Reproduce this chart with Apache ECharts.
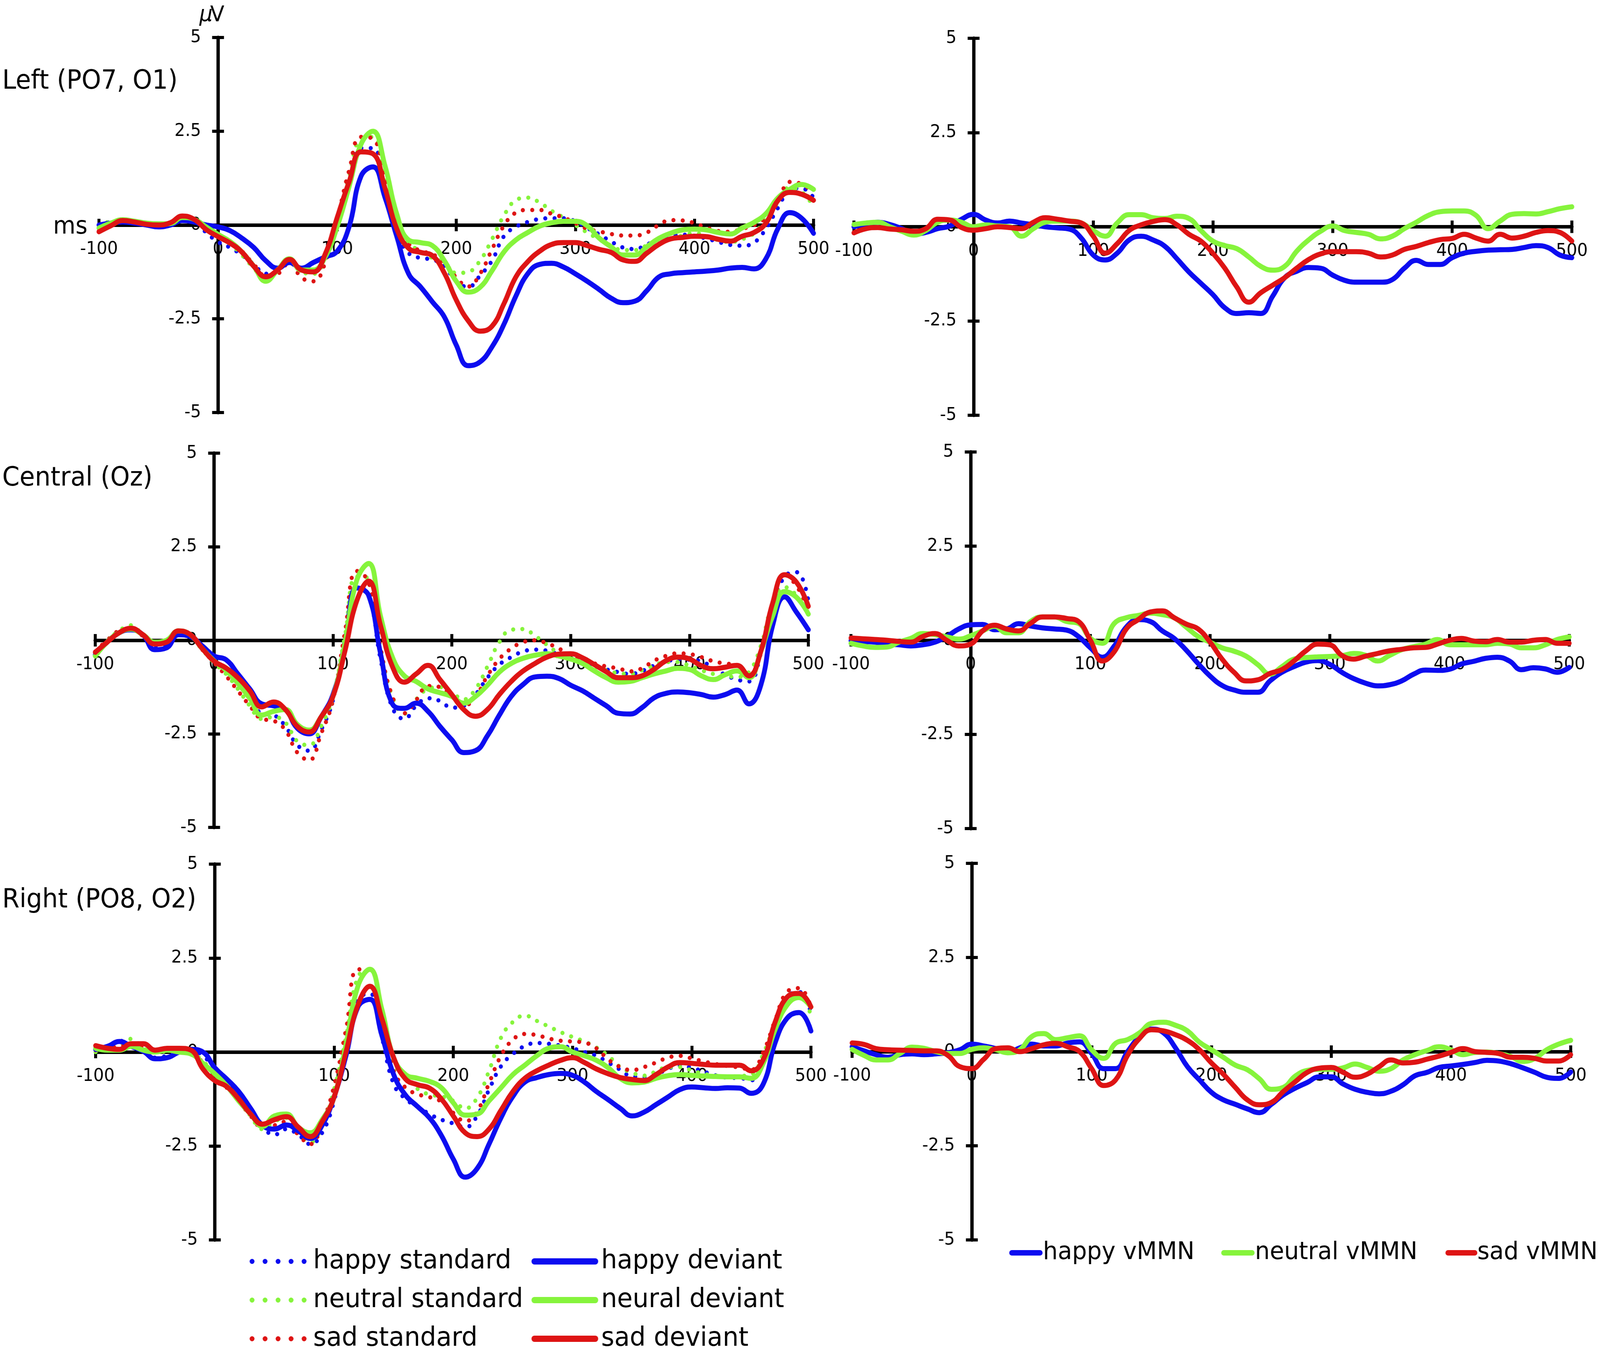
<!DOCTYPE html>
<html>
<head>
<meta charset="utf-8">
<script src="https://cdn.jsdelivr.net/npm/echarts/dist/echarts.min.js"></script>
<style>
html,body{margin:0;padding:0;background:#fff;overflow:hidden;}
#chart{width:4317px;height:3466px;transform-origin:0 0;}
</style>
</head>
<body>
<div id="chart"></div>
<script>
// ---- time axis (ms) ----
const times = [-100,-90,-80,-70,-60,-50,-40,-30,-20,-10,
  0,10,20,30,40,50,60,70,80,90,
  100,110,120,130,140,150,160,170,180,190,
  200,210,220,230,240,250,260,270,280,290,
  300,310,320,330,340,350,360,370,380,390,
  400,410,420,430,440,450,460,470,480,490,
  500];

const xTicks = [-100, 0, 100, 200, 300, 400, 500];
const yTicks = [-5, -2.5, 0, 2.5, 5];
const panelTitles = ['Left (PO7, O1)', 'Central (Oz)', 'Right (PO8, O2)'];
const erpLegend = ['happy standard', 'neutral standard', 'sad standard', 'happy deviant', 'neural deviant', 'sad deviant'];
const mmnLegend = ['happy vMMN', 'neutral vMMN', 'sad vMMN'];

// ---- Left (PO7, O1) ----
const L_happyStd = [0.0,0.08,0.1,0.05,0.0,-0.02,0.02,0.15,0.1,-0.2,
 -0.45,-0.6,-0.8,-1.05,-1.3,-1.2,-0.95,-1.2,-1.25,-0.9,
 0.0,1.2,2.05,2.05,1.0,-0.2,-0.75,-0.88,-0.92,-1.1,
 -1.5,-1.65,-1.35,-0.95,-0.3,-0.05,0.08,0.16,0.18,0.18,
 0.1,-0.08,-0.25,-0.44,-0.6,-0.64,-0.52,-0.38,-0.28,-0.26,
 -0.29,-0.36,-0.45,-0.53,-0.55,-0.47,-0.1,0.45,0.92,0.98,
 0.73];
const L_neutralStd = [-0.05,0.1,0.12,0.05,0.02,0.0,0.05,0.18,0.12,-0.1,
 -0.3,-0.5,-0.8,-1.15,-1.45,-1.25,-0.95,-1.25,-1.3,-0.9,
 0.05,1.3,2.3,2.35,1.2,-0.2,-0.5,-0.7,-0.88,-1.0,
 -1.28,-1.25,-0.95,-0.38,0.25,0.66,0.73,0.6,0.38,0.2,
 0.0,-0.2,-0.38,-0.55,-0.67,-0.67,-0.55,-0.47,-0.38,-0.28,
 -0.22,-0.29,-0.4,-0.45,-0.38,-0.22,0.15,0.6,1.0,0.88,
 0.5];
const L_sadStd = [-0.15,0.05,0.1,0.06,0.0,-0.02,0.05,0.22,0.12,-0.1,
 -0.3,-0.45,-0.7,-1.05,-1.35,-1.3,-1.0,-1.4,-1.5,-1.0,
 0.15,1.45,2.35,2.3,1.2,-0.05,-0.5,-0.69,-0.78,-1.0,
 -1.4,-1.64,-1.3,-0.65,-0.02,0.33,0.4,0.4,0.3,0.2,
 0.05,-0.1,-0.17,-0.24,-0.28,-0.28,-0.2,0.0,0.13,0.12,
 0.05,-0.07,-0.16,-0.18,-0.1,0.0,0.2,0.6,1.15,1.09,
 0.88];
const L_happyDev = [0.0,0.05,0.08,0.05,0.0,-0.05,0.0,0.12,0.08,0.0,
 -0.05,-0.15,-0.35,-0.6,-0.95,-1.15,-1.0,-1.15,-1.0,-0.85,
 -0.7,-0.05,1.3,1.55,0.75,-0.3,-1.3,-1.65,-2.05,-2.45,
 -3.2,-3.75,-3.65,-3.25,-2.65,-1.9,-1.3,-1.05,-1.02,-1.12,
 -1.3,-1.5,-1.72,-1.95,-2.07,-2.03,-1.75,-1.39,-1.3,-1.27,
 -1.25,-1.23,-1.2,-1.15,-1.13,-1.17,-0.9,-0.1,0.33,0.18,
 -0.22];
const L_neutralDev = [-0.08,0.05,0.14,0.1,0.05,0.03,0.04,0.2,0.15,-0.05,
 -0.25,-0.44,-0.72,-1.1,-1.5,-1.2,-0.9,-1.2,-1.2,-0.85,
 -0.05,1.02,2.15,2.5,1.6,0.3,-0.4,-0.47,-0.55,-0.95,
 -1.5,-1.79,-1.66,-1.22,-0.72,-0.4,-0.2,-0.03,0.06,0.1,
 0.1,-0.02,-0.35,-0.58,-0.8,-0.8,-0.58,-0.36,-0.22,-0.13,
 -0.11,-0.13,-0.2,-0.24,-0.08,0.07,0.3,0.72,0.95,1.08,
 0.95];
const L_sadDev = [-0.18,-0.02,0.12,0.08,0.02,0.0,0.06,0.24,0.15,-0.12,
 -0.31,-0.48,-0.72,-1.1,-1.38,-1.2,-0.92,-1.2,-1.25,-0.77,
 0.2,1.15,1.95,1.9,1.0,-0.1,-0.62,-0.73,-0.82,-1.28,
 -2.0,-2.55,-2.83,-2.7,-2.1,-1.39,-0.98,-0.7,-0.52,-0.47,
 -0.47,-0.55,-0.65,-0.73,-0.93,-0.97,-0.75,-0.52,-0.37,-0.33,
 -0.3,-0.31,-0.38,-0.43,-0.3,-0.2,0.05,0.65,0.87,0.82,
 0.66];
const L_happyVMMN = [0.0,0.08,0.12,0.06,-0.05,-0.2,-0.15,-0.05,0.02,0.2,
 0.33,0.18,0.1,0.15,0.1,0.05,0.0,-0.03,-0.06,-0.3,
 -0.75,-0.88,-0.7,-0.35,-0.25,-0.35,-0.52,-0.85,-1.2,-1.5,
 -1.8,-2.15,-2.3,-2.28,-2.3,-1.84,-1.35,-1.18,-1.08,-1.1,
 -1.28,-1.42,-1.47,-1.47,-1.47,-1.4,-1.1,-0.89,-1.0,-1.0,
 -0.82,-0.7,-0.65,-0.62,-0.61,-0.6,-0.55,-0.5,-0.55,-0.75,
 -0.82];
const L_neutralVMMN = [0.06,0.1,0.12,0.0,-0.12,-0.22,-0.1,0.12,0.18,0.12,
 0.0,0.05,0.02,0.0,-0.25,-0.05,0.12,0.15,0.15,0.1,
 -0.1,-0.25,0.1,0.32,0.32,0.24,0.22,0.28,0.22,-0.1,
 -0.38,-0.5,-0.58,-0.8,-1.05,-1.15,-1.05,-0.65,-0.35,-0.12,
 0.02,-0.1,-0.15,-0.2,-0.32,-0.25,-0.05,0.12,0.3,0.4,
 0.42,0.42,0.3,-0.05,0.15,0.33,0.35,0.34,0.4,0.48,
 0.53];
const L_sadVMMN = [-0.16,-0.05,-0.02,-0.06,-0.08,-0.12,-0.05,0.2,0.18,-0.02,
 -0.09,-0.05,0.0,-0.02,-0.05,0.12,0.24,0.2,0.15,0.1,
 -0.25,-0.7,-0.45,-0.1,0.05,0.14,0.19,0.05,-0.2,-0.38,
 -0.7,-1.1,-1.6,-2.0,-1.75,-1.55,-1.35,-1.1,-0.87,-0.72,
 -0.66,-0.66,-0.66,-0.7,-0.8,-0.75,-0.6,-0.52,-0.42,-0.34,
 -0.31,-0.2,-0.3,-0.38,-0.2,-0.3,-0.25,-0.15,-0.1,-0.15,
 -0.38];

// ---- Central (Oz) ----
const C_happyStd = [-0.35,-0.05,0.22,0.3,0.12,-0.15,-0.1,0.2,0.12,-0.2,
 -0.55,-0.8,-1.15,-1.55,-1.95,-2.0,-2.3,-2.8,-2.95,-2.4,
 -1.6,0.0,1.45,1.2,-0.5,-1.8,-2.1,-1.75,-1.55,-1.62,
 -1.8,-1.75,-1.45,-1.0,-0.65,-0.45,-0.3,-0.25,-0.28,-0.38,
 -0.5,-0.6,-0.7,-0.78,-0.85,-0.9,-0.82,-0.68,-0.58,-0.5,
 -0.52,-0.56,-0.75,-0.92,-1.05,-1.1,-0.35,0.9,1.7,1.82,
 1.05];
const C_neutralStd = [-0.4,-0.02,0.25,0.4,0.15,-0.05,-0.02,0.25,0.12,-0.25,
 -0.6,-0.9,-1.3,-1.75,-2.1,-2.05,-2.2,-2.7,-2.8,-2.3,
 -1.5,0.1,1.7,1.65,-0.2,-1.5,-1.96,-1.58,-1.3,-1.25,
 -1.4,-1.58,-1.3,-0.7,-0.05,0.28,0.3,0.12,-0.12,-0.35,
 -0.5,-0.6,-0.7,-0.8,-0.88,-0.9,-0.8,-0.68,-0.58,-0.58,
 -0.68,-0.8,-0.9,-0.95,-0.98,-0.85,-0.15,0.98,1.42,1.2,
 0.77];
const C_sadStd = [-0.3,0.0,0.25,0.3,0.12,-0.1,-0.05,0.22,0.12,-0.25,
 -0.6,-0.95,-1.35,-1.75,-2.1,-2.15,-2.4,-3.0,-3.2,-2.5,
 -1.6,0.2,1.85,1.55,-0.2,-1.5,-1.95,-1.6,-1.22,-1.25,
 -1.5,-1.75,-1.5,-0.95,-0.5,-0.22,-0.05,0.0,-0.08,-0.22,
 -0.4,-0.52,-0.62,-0.7,-0.75,-0.83,-0.75,-0.55,-0.42,-0.35,
 -0.37,-0.45,-0.56,-0.62,-0.66,-0.92,-0.35,0.9,1.75,1.45,
 0.84];
const C_happyDev = [-0.39,-0.05,0.2,0.28,0.15,-0.25,-0.2,0.15,0.1,-0.15,
 -0.42,-0.52,-0.9,-1.3,-1.7,-1.75,-1.85,-2.35,-2.5,-2.05,
 -1.45,-0.25,1.4,1.2,-0.35,-1.7,-1.82,-1.68,-1.9,-2.3,
 -2.66,-3.0,-2.95,-2.55,-2.0,-1.5,-1.18,-0.98,-0.96,-1.02,
 -1.2,-1.35,-1.55,-1.75,-1.95,-1.97,-1.8,-1.54,-1.42,-1.38,
 -1.4,-1.45,-1.52,-1.45,-1.33,-1.7,-1.2,0.4,1.16,0.75,
 0.28];
const C_neutralDev = [-0.42,-0.05,0.2,0.3,0.15,-0.05,0.0,0.25,0.15,-0.22,
 -0.55,-0.8,-1.15,-1.55,-2.0,-1.9,-1.85,-2.25,-2.4,-2.05,
 -1.5,-0.1,1.6,2.05,0.65,-0.45,-0.95,-1.1,-1.3,-1.4,
 -1.5,-1.68,-1.5,-1.2,-0.85,-0.62,-0.48,-0.4,-0.36,-0.42,
 -0.5,-0.62,-0.82,-1.0,-1.12,-1.1,-1.0,-0.9,-0.82,-0.75,
 -0.78,-0.95,-1.05,-0.92,-0.82,-1.0,-0.3,0.65,1.3,1.15,
 0.7];
const C_sadDev = [-0.32,-0.05,0.2,0.32,0.15,-0.1,-0.05,0.25,0.15,-0.22,
 -0.56,-0.74,-1.0,-1.35,-1.78,-1.65,-1.85,-2.3,-2.45,-2.05,
 -1.5,-0.3,1.05,1.58,0.4,-0.7,-1.12,-0.9,-0.67,-1.05,
 -1.45,-1.85,-2.03,-1.85,-1.45,-1.1,-0.82,-0.62,-0.45,-0.37,
 -0.36,-0.47,-0.65,-0.84,-1.0,-1.0,-0.95,-0.78,-0.55,-0.45,
 -0.5,-0.68,-0.76,-0.72,-0.67,-0.95,-0.3,1.0,1.75,1.55,
 0.91];
const C_happyVMMN = [-0.01,-0.03,-0.05,-0.1,-0.12,-0.15,-0.12,-0.05,0.1,0.3,
 0.41,0.42,0.28,0.3,0.44,0.38,0.33,0.3,0.27,0.1,
 -0.2,-0.45,-0.15,0.35,0.55,0.5,0.25,0.05,-0.26,-0.62,
 -0.95,-1.2,-1.32,-1.38,-1.38,-1.08,-0.85,-0.7,-0.58,-0.54,
 -0.64,-0.85,-1.02,-1.14,-1.21,-1.18,-1.08,-0.9,-0.79,-0.8,
 -0.77,-0.63,-0.56,-0.48,-0.45,-0.55,-0.78,-0.73,-0.76,-0.85,
 -0.72];
const C_neutralVMMN = [-0.08,-0.15,-0.19,-0.18,-0.05,0.05,0.18,0.15,0.09,0.03,
 0.12,0.25,0.37,0.2,0.2,0.5,0.62,0.62,0.5,0.45,
 0.05,-0.08,0.45,0.6,0.66,0.72,0.68,0.6,0.35,0.1,
 -0.05,-0.2,-0.29,-0.42,-0.65,-0.9,-0.7,-0.5,-0.46,-0.44,
 -0.43,-0.41,-0.35,-0.4,-0.55,-0.4,-0.25,-0.17,-0.1,0.02,
 -0.12,-0.12,-0.12,-0.12,-0.08,-0.1,-0.2,-0.2,-0.12,0.02,
 0.09];
const C_sadVMMN = [0.06,0.04,0.02,0.0,-0.03,-0.05,0.1,0.18,0.0,-0.15,
 -0.1,0.25,0.4,0.3,0.25,0.45,0.62,0.62,0.58,0.5,
 0.0,-0.55,-0.3,0.3,0.55,0.75,0.78,0.6,0.43,0.3,
 -0.05,-0.5,-0.85,-1.08,-1.05,-0.88,-0.78,-0.55,-0.28,-0.1,
 -0.12,-0.4,-0.5,-0.42,-0.35,-0.28,-0.24,-0.2,-0.19,-0.1,
 0.0,0.05,-0.02,-0.04,0.02,-0.05,-0.05,0.0,0.02,-0.08,
 -0.08];

// ---- Right (PO8, O2) ----
const R_happyStd = [0.05,0.15,0.3,0.15,0.05,-0.15,-0.1,0.02,0.05,-0.1,
 -0.45,-0.8,-1.2,-1.6,-2.0,-2.2,-2.05,-2.2,-2.45,-2.15,
 -1.3,0.1,1.4,1.55,0.4,-0.85,-1.25,-1.45,-1.65,-1.8,
 -1.9,-2.0,-1.7,-1.0,-0.38,-0.05,0.16,0.24,0.22,0.17,
 0.1,0.0,-0.1,-0.28,-0.47,-0.65,-0.66,-0.6,-0.45,-0.36,
 -0.42,-0.52,-0.62,-0.68,-0.69,-0.75,-0.25,0.75,1.46,1.6,
 1.04];
const R_neutralStd = [0.0,0.1,0.2,0.35,0.1,0.0,0.02,0.05,0.0,-0.25,
 -0.55,-0.85,-1.25,-1.7,-2.05,-1.85,-1.75,-2.15,-2.4,-1.95,
 -1.0,0.4,2.0,2.2,0.9,-0.3,-0.65,-0.98,-1.13,-1.18,
 -1.3,-1.5,-1.22,-0.5,0.38,0.8,0.97,0.83,0.68,0.53,
 0.4,0.28,0.12,-0.1,-0.4,-0.55,-0.63,-0.52,-0.4,-0.4,
 -0.49,-0.58,-0.63,-0.65,-0.64,-0.6,-0.05,0.75,1.32,1.55,
 0.95];
const R_sadStd = [0.05,0.12,0.15,0.2,0.12,0.0,0.05,0.05,0.05,-0.3,
 -0.7,-0.95,-1.3,-1.7,-2.0,-1.95,-1.85,-2.2,-2.45,-1.9,
 -0.9,0.6,2.2,2.2,0.8,-0.5,-0.95,-1.12,-1.2,-1.32,
 -1.62,-1.84,-1.58,-0.83,-0.1,0.33,0.48,0.45,0.36,0.3,
 0.28,0.25,0.1,-0.2,-0.4,-0.48,-0.4,-0.28,-0.15,-0.1,
 -0.17,-0.25,-0.32,-0.37,-0.41,-0.47,0.0,0.85,1.6,1.7,
 1.18];
const R_happyDev = [0.07,0.15,0.28,0.15,0.02,-0.18,-0.15,0.0,0.07,0.0,
 -0.42,-0.72,-1.05,-1.5,-1.95,-2.05,-1.94,-2.1,-2.3,-1.95,
 -1.2,-0.1,1.2,1.4,0.45,-0.6,-1.15,-1.45,-1.75,-2.22,
 -2.85,-3.33,-3.1,-2.45,-1.75,-1.18,-0.8,-0.68,-0.6,-0.57,
 -0.62,-0.8,-1.05,-1.27,-1.5,-1.7,-1.6,-1.4,-1.2,-1.0,
 -0.93,-0.95,-0.97,-0.95,-0.96,-1.1,-0.85,0.25,0.9,1.05,
 0.56];
const R_neutralDev = [0.1,0.05,0.05,0.15,0.05,0.0,0.05,0.0,-0.05,-0.3,
 -0.58,-0.9,-1.3,-1.65,-1.98,-1.7,-1.65,-2.0,-2.15,-1.8,
 -1.2,0.2,1.75,2.2,1.15,-0.15,-0.6,-0.7,-0.78,-0.95,
 -1.35,-1.68,-1.65,-1.3,-0.95,-0.6,-0.35,-0.1,0.1,0.14,
 0.0,-0.1,-0.22,-0.42,-0.7,-0.82,-0.8,-0.7,-0.63,-0.6,
 -0.62,-0.64,-0.65,-0.66,-0.66,-0.7,-0.3,0.6,1.25,1.45,
 1.2];
const R_sadDev = [0.17,0.1,0.07,0.22,0.22,0.05,0.1,0.1,0.05,-0.45,
 -0.76,-0.92,-1.25,-1.65,-1.92,-1.8,-1.72,-2.0,-2.25,-1.85,
 -1.2,0.0,1.25,1.75,0.9,-0.15,-0.72,-0.87,-0.96,-1.25,
 -1.7,-2.15,-2.25,-2.05,-1.55,-1.05,-0.7,-0.5,-0.35,-0.22,
 -0.15,-0.28,-0.45,-0.58,-0.68,-0.73,-0.76,-0.6,-0.4,-0.28,
 -0.3,-0.33,-0.35,-0.35,-0.35,-0.5,-0.2,0.8,1.46,1.56,
 1.2];
const R_happyVMMN = [0.13,0.02,-0.08,-0.15,-0.08,-0.06,-0.08,-0.06,-0.03,0.05,
 0.2,0.15,0.08,-0.02,0.1,0.2,0.15,0.15,0.23,0.26,
 -0.05,-0.45,-0.45,0.0,0.4,0.6,0.5,0.1,-0.4,-0.75,
 -1.08,-1.28,-1.4,-1.52,-1.62,-1.4,-1.15,-0.97,-0.82,-0.67,
 -0.67,-0.86,-1.0,-1.08,-1.12,-1.05,-0.88,-0.64,-0.55,-0.42,
 -0.38,-0.34,-0.29,-0.23,-0.25,-0.32,-0.43,-0.55,-0.68,-0.71,
 -0.54];
const R_neutralVMMN = [0.06,-0.1,-0.22,-0.22,-0.05,0.12,0.09,0.0,-0.05,-0.05,
 0.06,0.1,0.05,-0.03,0.05,0.4,0.48,0.32,0.37,0.42,
 0.05,-0.18,0.22,0.32,0.5,0.75,0.78,0.7,0.55,0.25,
 0.05,-0.15,-0.36,-0.48,-0.72,-1.0,-0.95,-0.65,-0.5,-0.47,
 -0.47,-0.43,-0.33,-0.42,-0.52,-0.45,-0.22,-0.08,0.03,0.13,
 0.05,-0.08,-0.02,-0.01,-0.05,-0.13,-0.26,-0.18,0.05,0.2,
 0.3];
const R_sadVMMN = [0.23,0.19,0.08,0.05,0.04,0.03,0.02,0.02,-0.1,-0.4,
 -0.45,-0.2,0.08,0.1,0.0,0.08,0.18,0.22,0.13,0.0,
 -0.45,-0.9,-0.75,-0.1,0.35,0.58,0.55,0.45,0.3,0.05,
 -0.3,-0.6,-0.95,-1.28,-1.41,-1.35,-1.06,-0.8,-0.55,-0.44,
 -0.42,-0.55,-0.68,-0.6,-0.4,-0.22,-0.3,-0.28,-0.2,-0.12,
 -0.02,0.08,0.0,-0.02,-0.05,-0.15,-0.15,-0.18,-0.25,-0.25,
 -0.08];

// ---- styling ----
const FONT = '"DejaVu Sans", "Noto Sans", sans-serif';
const BLUE = '#0c0cf0', GREEN = '#86f43c', RED = '#de1414';

const grids = [
  {left: 267,  top: 96,   width: 1928, height: 960},
  {left: 2304, top: 98,   width: 1937, height: 965},
  {left: 257,  top: 1160, width: 1924, height: 958},
  {left: 2296, top: 1157, width: 1938, height: 964},
  {left: 258,  top: 2212, width: 1930, height: 962},
  {left: 2299, top: 2210, width: 1939, height: 964}
];

const erpPanels = [
  {std: [L_happyStd, L_neutralStd, L_sadStd], dev: [L_happyDev, L_neutralDev, L_sadDev], mmn: [L_happyVMMN, L_neutralVMMN, L_sadVMMN]},
  {std: [C_happyStd, C_neutralStd, C_sadStd], dev: [C_happyDev, C_neutralDev, C_sadDev], mmn: [C_happyVMMN, C_neutralVMMN, C_sadVMMN]},
  {std: [R_happyStd, R_neutralStd, R_sadStd], dev: [R_happyDev, R_neutralDev, R_sadDev], mmn: [R_happyVMMN, R_neutralVMMN, R_sadVMMN]}
];
const colors = [BLUE, GREEN, RED];

const X_MIN = xTicks[0], X_MAX = xTicks[xTicks.length - 1];
const Y_MIN = yTicks[0], Y_MAX = yTicks[yTicks.length - 1];
const AX_W = 9, TICK_LEN = 16, TICK_W = 8;
const xAxes = [], yAxes = [], series = [];
grids.forEach((g, gi) => {
  // axes are moved onto the zero lines of the other axis with offsets
  const zeroFromBottom = g.height * (0 - Y_MIN) / (Y_MAX - Y_MIN);
  const zeroFromTop = g.height - zeroFromBottom;
  const zeroFromLeft = g.width * (0 - X_MIN) / (X_MAX - X_MIN);
  const zeroFromRight = g.width - zeroFromLeft;
  const line = {onZero: false, lineStyle: {color: '#000', width: AX_W}};
  const tick = {show: true, length: TICK_LEN, lineStyle: {color: '#000', width: TICK_W}};
  const base = {gridIndex: gi, type: 'value', splitLine: {show: false}, axisLine: line, axisTick: tick};
  xAxes.push(Object.assign({}, base, {
    min: X_MIN, max: X_MAX, interval: 100, position: 'bottom', offset: -zeroFromBottom,
    axisLabel: {show: true, color: '#000', fontFamily: FONT, fontSize: 45, margin: 40}
  }));
  xAxes.push(Object.assign({}, base, {
    min: X_MIN, max: X_MAX, interval: 100, position: 'top', offset: -zeroFromTop,
    axisLabel: {show: false}
  }));
  yAxes.push(Object.assign({}, base, {
    min: Y_MIN, max: Y_MAX, interval: 2.5, position: 'left', offset: -zeroFromLeft,
    axisLabel: {show: true, color: '#000', fontFamily: FONT, fontSize: 45, margin: 46}
  }));
  yAxes.push(Object.assign({}, base, {
    min: Y_MIN, max: Y_MAX, interval: 2.5, position: 'right', offset: -zeroFromRight,
    axisLabel: {show: false}
  }));
});

function mkSeries(gi, arr, color, dotted, name, z) {
  return {
    name: name, type: 'line', xAxisIndex: gi * 2, yAxisIndex: gi * 2,
    data: times.map((t, i) => [t, arr[i]]),
    smooth: 0.45, symbol: 'none', silent: true, z: z,
    lineStyle: dotted
      ? {color: color, width: 11, type: [0.1, 25], cap: 'round'}
      : {color: color, width: 13, cap: 'round', join: 'round'}
  };
}

erpPanels.forEach((p, row) => {
  const gl = row * 2, gr = row * 2 + 1;
  p.std.forEach((arr, k) => series.push(mkSeries(gl, arr, colors[k], true, erpLegend[k], 2)));
  p.dev.forEach((arr, k) => series.push(mkSeries(gl, arr, colors[k], false, erpLegend[k + 3], 3 + k)));
  p.mmn.forEach((arr, k) => series.push(mkSeries(gr, arr, colors[k], false, mmnLegend[k], 3 + k)));
});

// ---- text & legends (graphic) ----
const graphic = [];
function txt(x, y, s, size, opts) {
  graphic.push({type: 'text', x: x, y: y, silent: true, z: 10, style: Object.assign({
    text: s, font: size + 'px ' + FONT, fill: '#000',
    textAlign: 'left', textVerticalAlign: 'middle', align: 'left', verticalAlign: 'middle'
  }, opts || {})});
}
const titleY = [210, 1226, 2306];
panelTitles.forEach((t, i) => txt(6, titleY[i], t, 67));
txt(538, 39, 'μ', 56, {font: 'italic 56px ' + FONT});
txt(567, 39, 'V', 56);
txt(236, 582, 'ms', 62, {textAlign: 'right', align: 'right'});

// left legend (2 columns x 3 rows)
const legRowsY = [3229, 3328, 3427];
for (let k = 0; k < 3; k++) {
  const y = legRowsY[k];
  graphic.push({type: 'line', silent: true, shape: {x1: 680, y1: y, x2: 822, y2: y},
    style: {stroke: colors[k], lineWidth: 13, lineDash: [0.1, 35], lineCap: 'round'}});
  txt(845, y, erpLegend[k], 68);
  graphic.push({type: 'line', silent: true, shape: {x1: 1442, y1: y, x2: 1606, y2: y},
    style: {stroke: colors[k], lineWidth: 16, lineCap: 'round'}});
  txt(1622, y, erpLegend[k + 3], 68);
}
// right legend (one row)
const mmnLegX = [[2730, 2806, 2814], [3302, 3378, 3386], [3907, 3979, 3986]];
mmnLegX.forEach((xs, k) => {
  graphic.push({type: 'line', silent: true, shape: {x1: xs[0], y1: 3207, x2: xs[1], y2: 3207},
    style: {stroke: colors[k], lineWidth: 14, lineCap: 'round'}});
  txt(xs[2], 3207, mmnLegend[k], 63);
});

// fit the 4317x3466 design onto the whole viewport
const el = document.getElementById('chart');
const SX = (window.innerWidth || 4317) / 4317;
const SY = (window.innerHeight || 3466) / 3466;
el.style.transform = 'scale(' + SX + ',' + SY + ')';

const chart = echarts.init(el, null, {renderer: 'canvas', width: 4317, height: 3466});
chart.setOption({
  animation: false,
  backgroundColor: '#fff',
  grid: grids.map(g => Object.assign({containLabel: false}, g)),
  xAxis: xAxes,
  yAxis: yAxes,
  series: series,
  graphic: graphic
});
</script>
</body>
</html>
